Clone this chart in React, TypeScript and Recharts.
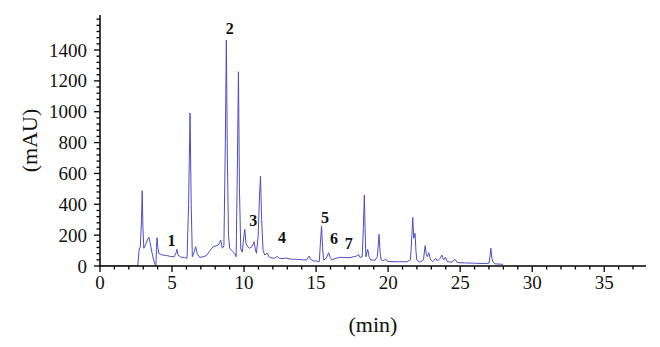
import React from "react";
import { ComposedChart, Line, Scatter, XAxis, YAxis, Label } from "recharts";

// retention time (min) and absorbance (mAU)
const times = [
  0, 2.62, 2.72, 2.8, 2.88, 2.93, 2.98, 3.04, 3.12, 3.22, 3.32, 3.4, 3.48, 3.6, 3.72, 3.82, 3.88, 3.92, 3.96,
  4.02, 4.08, 4.3, 4.6, 4.9, 5.15, 5.28, 5.34, 5.42, 5.6, 5.85, 6.04, 6.15, 6.25, 6.33, 6.41, 6.55, 6.64, 6.75,
  6.92, 7.15, 7.39, 7.6, 7.85, 8.05, 8.2, 8.3, 8.38, 8.49, 8.6, 8.7, 8.77, 8.84, 8.92, 9.0, 9.2, 9.35, 9.45,
  9.53, 9.61, 9.68, 9.77, 9.88, 9.97, 10.05, 10.13, 10.22, 10.38, 10.55, 10.7, 10.78, 10.86, 10.98, 11.07,
  11.14, 11.22, 11.32, 11.44, 11.53, 11.63, 11.72, 11.85, 12.1, 12.3, 12.45, 12.7, 12.9, 13.2, 13.5, 13.8,
  14.1, 14.34, 14.45, 14.52, 14.6, 14.8, 15.0, 15.22, 15.3, 15.38, 15.45, 15.52, 15.7, 15.87, 15.98, 16.1,
  16.3, 16.65, 17.0, 17.35, 17.6, 17.82, 17.95, 18.05, 18.2, 18.28, 18.35, 18.41, 18.46, 18.58, 18.68, 18.79,
  19.1, 19.25, 19.37, 19.45, 19.52, 19.7, 19.83, 19.95, 20.2, 20.8, 21.3, 21.55, 21.65, 21.71, 21.78, 21.87,
  21.93, 21.99, 22.2, 22.45, 22.57, 22.65, 22.72, 22.82, 22.95, 23.1, 23.3, 23.42, 23.61, 23.73, 23.85, 23.98,
  24.1, 24.4, 24.65, 24.8, 25.3, 26.0, 26.6, 27.0, 27.08, 27.13, 27.2, 27.27, 27.4, 27.97,
];
const mAU = [
  0, 0, 110, 125, 300, 488, 250, 115, 130, 150, 175, 186, 150, 90, 40, 10, 0, 120, 183,
  120, 82, 72, 68, 62, 60, 85, 108, 70, 58, 55, 50, 400, 992, 400, 60, 95, 125, 80,
  56, 60, 68, 95, 125, 130, 136, 150, 168, 115, 130, 800, 1465, 700, 200, 115, 95, 82, 60,
  600, 1259, 500, 110, 90, 180, 238, 150, 128, 115, 125, 157, 110, 82, 200, 450,
  583, 300, 100, 71, 78, 82, 60, 54, 50, 62, 50, 48, 52, 45, 44, 42,
  40, 39, 55, 65, 45, 34, 32, 28, 150, 259, 120, 39, 50, 86, 55, 39,
  48, 56, 55, 54, 60, 65, 75, 55, 60, 250, 460, 200, 60, 108, 60, 39,
  38, 60, 205, 80, 39, 35, 45, 30, 28, 28, 27, 40, 200, 315, 180, 212,
  100, 39, 25, 40, 132, 75, 60, 86, 40, 28, 50, 32, 50, 71, 40, 56,
  28, 25, 43, 22, 20, 18, 16, 18, 70, 115, 50, 28, 14, 11,
];

// numbered peak annotations
const peakNames = ["1", "2", "3", "4", "5", "6", "7"];
const peakTimes = [4.97, 9.0, 10.63, 12.64, 15.61, 16.24, 17.26];
const peakLabelY = [168, 1544, 298, 186, 320, 184, 147];

const xMajor = [0, 5, 10, 15, 20, 25, 30, 35];
const yMajor = [0, 200, 400, 600, 800, 1000, 1200, 1400];
const xTicks = Array.from({ length: 38 }, (_, i) => i);
const yTicks = Array.from({ length: 41 }, (_, i) => i * 40);

const trace = times.map((t, i) => ({ t, mAU: mAU[i] }));
const peaks = peakNames.map((name, i) => ({ t: peakTimes[i], v: peakLabelY[i], name }));

const FONT = '"Liberation Serif", "Times New Roman", serif';

function XTick({ x, y, payload }: any) {
  const major = xMajor.includes(payload.value);
  return (
    <g>
      <line x1={x} x2={x} y1={y} y2={y + (major ? 6 : 3.5)} stroke="#000" strokeWidth={1.3} />
      {major && (
        <text x={x} y={y + 23} textAnchor="middle" fontFamily={FONT} fontSize={19} fill="#111">
          {payload.value}
        </text>
      )}
    </g>
  );
}

function YTick({ x, y, payload }: any) {
  const major = yMajor.includes(payload.value);
  return (
    <g>
      <line x1={x - (major ? 6 : 3.5)} x2={x} y1={y} y2={y} stroke="#000" strokeWidth={1.3} />
      {major && (
        <text x={x - 13} y={y + 6.5} textAnchor="end" fontFamily={FONT} fontSize={19} fill="#111">
          {payload.value}
        </text>
      )}
    </g>
  );
}

function PeakLabel({ cx, cy, payload }: any) {
  return (
    <text x={cx} y={cy + 6} textAnchor="middle" fontFamily={FONT} fontWeight="bold" fontSize={16} fill="#111">
      {payload.name}
    </text>
  );
}

export default function App() {
  return (
    <div style={{ position: "absolute", left: 0, top: 0, width: 660, height: 347, background: "#fff" }}>
      <ComposedChart width={660} height={347} data={trace} margin={{ top: 15, right: 14, bottom: 21, left: 0 }}>
        <XAxis
          dataKey="t"
          type="number"
          domain={[0, 37.9]}
          ticks={xTicks}
          interval={0}
          tick={<XTick />}
          tickLine={false}
          tickSize={0}
          tickMargin={0}
          axisLine={{ stroke: "#000", strokeWidth: 1.5 }}
          height={60}
          allowDataOverflow
        >
          <Label
            content={({ viewBox }: any) => (
              <text
                x={viewBox.x + viewBox.width / 2}
                y={viewBox.y + 66}
                textAnchor="middle"
                fontFamily={FONT}
                fontSize={22}
                fill="#111"
              >
                (min)
              </text>
            )}
          />
        </XAxis>
        <YAxis
          type="number"
          domain={[0, 1627]}
          ticks={yTicks}
          interval={0}
          tick={<YTick />}
          tickLine={false}
          tickSize={0}
          tickMargin={0}
          axisLine={{ stroke: "#000", strokeWidth: 1.5 }}
          width={100}
          allowDataOverflow
        >
          <Label
            content={({ viewBox }: any) => {
              const cx = 29;
              const cy = viewBox.y + viewBox.height / 2;
              return (
                <text
                  x={cx}
                  y={cy}
                  transform={`rotate(-90 ${cx} ${cy})`}
                  textAnchor="middle"
                  dominantBaseline="central"
                  fontFamily={FONT}
                  fontSize={22}
                  fill="#111"
                >
                  (mAU)
                </text>
              );
            }}
          />
        </YAxis>
        <Line
          type="linear"
          dataKey="mAU"
          stroke="#4d4dc6"
          strokeWidth={1}
          dot={false}
          activeDot={false}
          isAnimationActive={false}
        />
        <Scatter data={peaks} dataKey="v" shape={<PeakLabel />} isAnimationActive={false} />
      </ComposedChart>
    </div>
  );
}
